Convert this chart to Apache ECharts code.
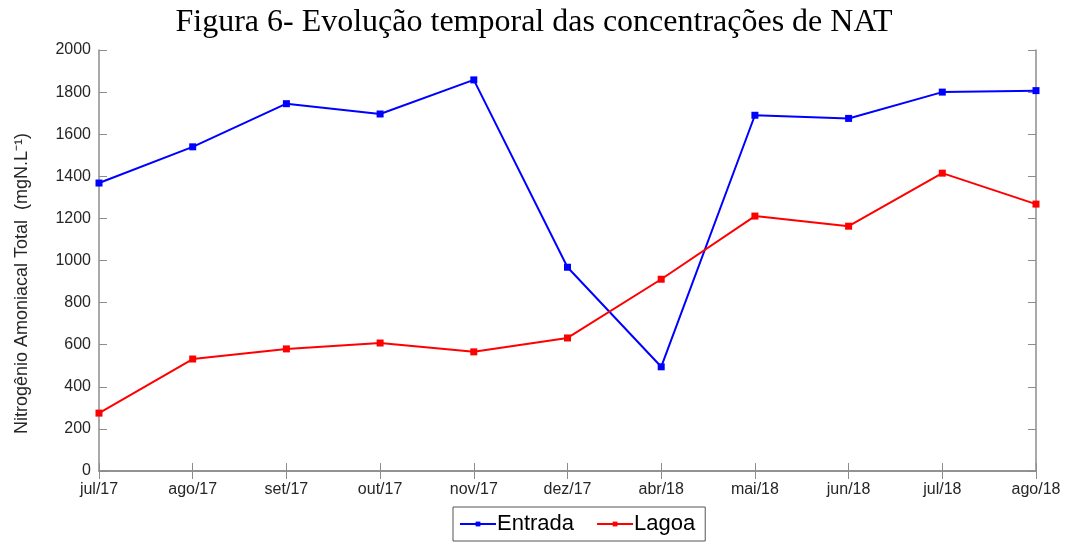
<!DOCTYPE html>
<html>
<head>
<meta charset="utf-8">
<script src="https://cdn.jsdelivr.net/npm/echarts@6/dist/echarts.min.js"></script>
<style>
  html, body { margin: 0; padding: 0; background: #fff; }
  #main { width: 1068px; height: 543px; }
</style>
</head>
<body>
<div id="main"></div>
<script>
var meses = ['jul/17', 'ago/17', 'set/17', 'out/17', 'nov/17', 'dez/17', 'abr/18', 'mai/18', 'jun/18', 'jul/18', 'ago/18'];
var entrada = [1368, 1540, 1745, 1696, 1858, 968, 495, 1690, 1675, 1800, 1807];
var lagoa = [275, 532, 580, 608, 566, 632, 911, 1211, 1163, 1415, 1268];

var myChart = echarts.init(document.getElementById('main'));

var eixoCor = '#8c8c8c';
var textoCor = '#262626';

option = {
    animation: false,
    title: {
        text: 'Figura 6- Evolução temporal das concentrações de NAT',
        left: 'center',
        top: 2,
        textStyle: {
            fontFamily: 'Liberation Serif',
            fontWeight: 'normal',
            fontSize: 32,
            color: '#000'
        }
    },
    legend: {
        bottom: 2,
        left: 453,
        itemWidth: 36,
        itemHeight: 6,
        itemGap: 22,
        padding: [6, 10, 6, 6],
        borderColor: '#555',
        borderWidth: 1,
        borderRadius: 0,
        textStyle: {
            fontFamily: 'Liberation Sans',
            fontSize: 22,
            color: '#000',
            padding: [0, 0, 0, -4]
        },
        data: ['Entrada', 'Lagoa']
    },
    grid: {
        left: 99,
        right: 32,
        top: 50,
        bottom: 72
    },
    xAxis: [
        {
            type: 'category',
            data: meses,
            boundaryGap: false,
            axisLine: { lineStyle: { color: eixoCor, width: 1.5 } },
            axisTick: { inside: true, length: 8, alignWithLabel: true, lineStyle: { color: eixoCor } },
            axisLabel: { color: textoCor, fontFamily: 'Liberation Sans', fontSize: 16, margin: 11 },
            splitLine: { show: false }
        },
        {
            type: 'category',
            data: meses,
            position: 'top',
            boundaryGap: false,
            axisLine: { lineStyle: { color: eixoCor, width: 1.5 } },
            axisTick: { inside: true, length: 8, lineStyle: { color: eixoCor } },
            axisLabel: { show: false }
        }
    ],
    yAxis: [
        {
            type: 'value',
            min: 0,
            max: 2000,
            interval: 200,
            name: 'Nitrogênio Amoniacal Total  (mgN.L⁻¹)',
            nameLocation: 'middle',
            nameGap: 68,
            nameTextStyle: {
                color: textoCor,
                fontFamily: 'Liberation Sans',
                fontSize: 18,
                padding: [0, 46, 0, 0]
            },
            axisLine: { show: true, lineStyle: { color: eixoCor, width: 1.5 } },
            axisTick: { show: true, inside: true, length: 8, lineStyle: { color: eixoCor } },
            axisLabel: {
                color: textoCor,
                fontFamily: 'Liberation Sans',
                fontSize: 16,
                margin: 8,
                formatter: function (v) { return String(v); }
            },
            splitLine: { show: false }
        },
        {
            type: 'value',
            min: 0,
            max: 2000,
            interval: 200,
            position: 'right',
            axisLine: { show: true, lineStyle: { color: eixoCor, width: 1.5 } },
            axisTick: { show: true, inside: true, length: 8, lineStyle: { color: eixoCor } },
            axisLabel: { show: false },
            splitLine: { show: false }
        }
    ],
    series: [
        {
            name: 'Entrada',
            type: 'line',
            data: entrada,
            color: '#0000ff',
            symbol: 'rect',
            symbolSize: 7,
            lineStyle: { width: 2 },
            itemStyle: { color: '#0000ff' }
        },
        {
            name: 'Lagoa',
            type: 'line',
            data: lagoa,
            color: '#ff0000',
            symbol: 'rect',
            symbolSize: 7,
            lineStyle: { width: 2 },
            itemStyle: { color: '#ff0000' }
        }
    ]
};
myChart.setOption(option);
</script>
</body>
</html>
